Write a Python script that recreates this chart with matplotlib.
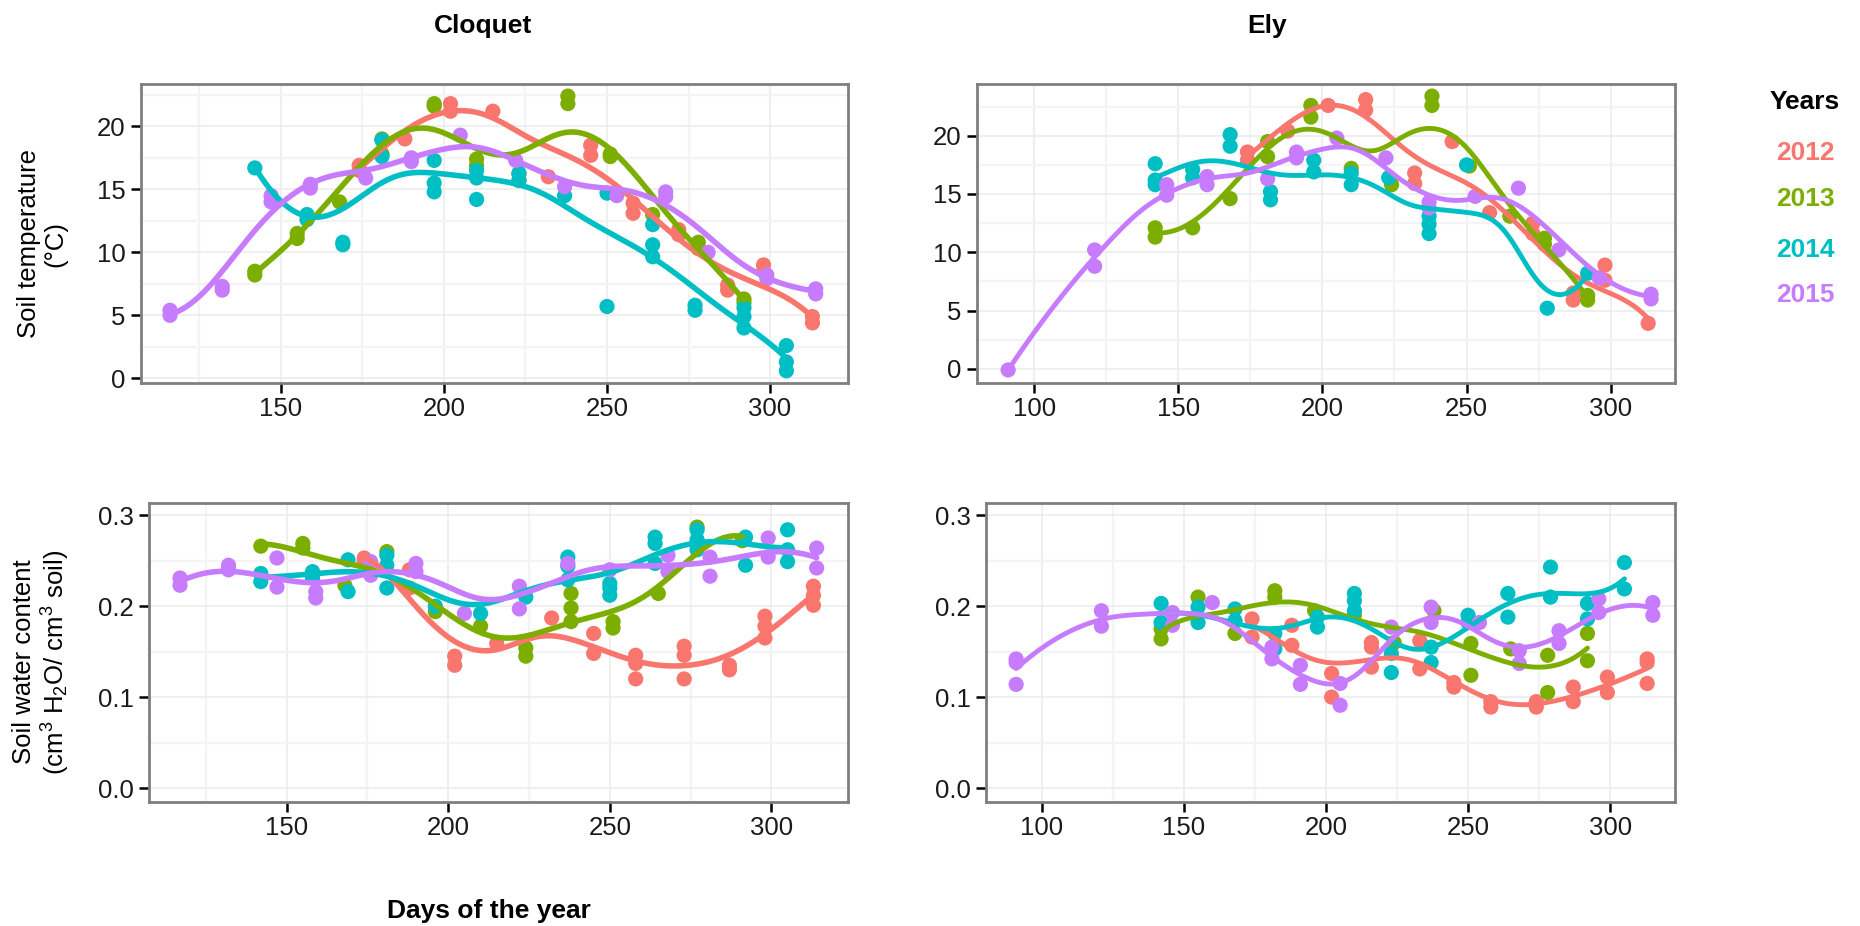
import numpy as np
import matplotlib
matplotlib.use("Agg")
import matplotlib.pyplot as plt
from matplotlib.ticker import FixedLocator

plt.rcParams.update({
    "font.family": ["Liberation Sans", "DejaVu Sans"],
    "font.size": 16,
})

# ── colours (ggplot default hue palette) ──
YEARS = ["2012", "2013", "2014", "2015"]
COLORS = ["#F8766D", "#7CAE00", "#00BFC4", "#C77CFF"]

# ── Cloquet, soil temperature (°C) ──
clq_temp_2012_day = [174, 174, 188, 202, 202, 215, 232, 245, 245, 258, 258, 272, 272, 287, 287, 298, 298, 313, 313]
clq_temp_2012_val = [16.9, 16.5, 19.0, 21.8, 21.2, 21.2, 16.0, 18.5, 17.7, 13.9, 13.1, 11.8, 11.4, 7.4, 7.0, 9.0, 8.5, 4.9, 4.4]
clq_temp_2013_day = [142, 142, 155, 155, 168, 181, 181, 197, 197, 210, 210, 223, 223, 238, 238, 251, 251, 264, 278, 278, 292, 292]
clq_temp_2013_val = [8.5, 8.2, 11.5, 11.1, 14.0, 17.8, 19.0, 21.8, 21.6, 17.4, 16.9, 16.2, 15.7, 22.4, 21.8, 17.8, 17.6, 13.0, 10.8, 10.3, 6.3, 6.0]
clq_temp_2014_day = [142, 158, 158, 169, 169, 181, 181, 197, 197, 197, 210, 210, 210, 223, 223, 237, 250, 250,
                     264, 264, 264, 277, 277, 292, 292, 292, 305, 305, 305]
clq_temp_2014_val = [16.7, 13.0, 12.6, 10.8, 10.6, 18.9, 17.6, 17.3, 15.5, 14.8, 16.5, 15.9, 14.2, 16.3, 15.7, 14.5, 14.7, 5.7,
                     12.2, 10.6, 9.65, 5.8, 5.4, 5.6, 4.9, 4.0, 2.6, 1.3, 0.6]
clq_temp_2015_day = [116, 116, 132, 132, 147, 147, 159, 159, 176, 190, 190, 205, 222, 237, 253, 268, 268, 281, 299, 299, 314, 314]
clq_temp_2015_val = [5.4, 5.0, 7.3, 7.0, 14.5, 14.0, 15.4, 15.1, 15.9, 17.5, 17.2, 19.3, 17.3, 15.2, 14.5, 14.8, 14.4, 10.0, 8.2, 7.9, 7.1, 6.7]

# ── Ely, soil temperature (°C) ──
ely_temp_2012_day = [174, 174, 188, 202, 215, 215, 232, 232, 245, 258, 273, 273, 287, 287, 298, 298, 313]
ely_temp_2012_val = [18.6, 17.9, 20.4, 22.6, 23.1, 22.2, 16.8, 15.9, 19.5, 13.4, 12.5, 11.6, 6.5, 5.9, 8.9, 7.6, 3.9]
ely_temp_2013_day = [142, 142, 155, 168, 181, 181, 196, 196, 210, 224, 238, 238, 251, 265, 277, 277, 292, 292]
ely_temp_2013_val = [12.1, 11.3, 12.1, 14.6, 18.2, 19.5, 22.6, 21.6, 17.2, 15.8, 23.4, 22.6, 17.4, 13.1, 11.2, 10.7, 6.3, 5.9]
ely_temp_2014_day = [142, 142, 142, 155, 155, 168, 168, 182, 182, 197, 197, 210, 210, 223, 237, 237, 237, 250, 278, 292]
ely_temp_2014_val = [17.6, 16.2, 15.8, 17.1, 16.4, 20.1, 19.1, 15.2, 14.5, 17.9, 16.9, 16.8, 15.8, 16.4, 13.1, 12.4, 11.6, 17.5, 5.2, 8.2]
ely_temp_2015_day = [91, 121, 121, 146, 146, 160, 160, 181, 191, 191, 205, 222, 237, 237, 253, 268, 282, 296, 314, 314]
ely_temp_2015_val = [-0.1, 10.2, 8.8, 15.8, 14.9, 16.5, 15.8, 16.3, 18.6, 18.1, 19.8, 18.1, 14.3, 13.8, 14.8, 15.5, 10.2, 7.8, 6.4, 6.0]

# ── Cloquet, soil water content (cm3/cm3) ──
clq_swc_2012_day = [174, 174, 188, 188, 202, 202, 215, 232, 245, 245, 258, 258, 258, 273, 273, 273, 287, 287,
                    298, 298, 298, 313, 313, 313]
clq_swc_2012_val = [.253, .249, .240, .220, .145, .135, .159, .187, .170, .148, .146, .137, .120, .156, .146, .120, .135, .130,
                    .189, .178, .165, .222, .212, .201]
clq_swc_2013_day = [142, 155, 155, 168, 181, 196, 210, 224, 224, 238, 238, 238, 251, 251, 265, 277, 291]
clq_swc_2013_val = [.266, .269, .264, .223, .260, .194, .178, .154, .145, .214, .198, .183, .183, .176, .214, .287, .272]
clq_swc_2014_day = [142, 142, 158, 158, 169, 169, 181, 181, 181, 196, 210, 224, 237, 237, 237, 250, 250, 250,
                    264, 264, 264, 277, 277, 277, 292, 292, 305, 305, 305]
clq_swc_2014_val = [.236, .227, .238, .231, .251, .216, .256, .245, .220, .200, .192, .210, .254, .244, .229, .225, .220, .212,
                    .276, .269, .247, .284, .273, .262, .276, .245, .284, .262, .249]
clq_swc_2015_day = [117, 117, 132, 132, 147, 147, 159, 159, 176, 176, 190, 190, 205, 222, 222, 237, 250,
                    268, 268, 281, 281, 299, 299, 314, 314]
clq_swc_2015_val = [.231, .223, .245, .240, .253, .221, .216, .209, .249, .234, .247, .238, .192, .222, .197, .247, .240,
                    .256, .238, .254, .233, .275, .254, .264, .242]

# ── Ely, soil water content (cm3/cm3) ──
ely_swc_2012_day = [174, 174, 188, 188, 202, 202, 216, 216, 216, 233, 233, 245, 245, 258, 258, 274, 274,
                    287, 287, 299, 299, 313, 313, 313]
ely_swc_2012_val = [.186, .166, .179, .157, .126, .100, .160, .155, .133, .162, .131, .116, .111, .095, .089, .095, .089,
                    .111, .095, .122, .105, .142, .138, .115]
ely_swc_2013_day = [142, 142, 155, 168, 182, 182, 196, 210, 224, 238, 251, 251, 265, 278, 278, 292, 292]
ely_swc_2013_val = [.175, .164, .210, .170, .217, .210, .195, .190, .160, .195, .159, .124, .153, .146, .105, .170, .140]
ely_swc_2014_day = [142, 142, 155, 155, 168, 168, 182, 182, 197, 197, 210, 210, 210, 223, 223, 237, 237,
                    250, 250, 264, 264, 279, 279, 292, 292, 305, 305]
ely_swc_2014_val = [.203, .182, .199, .182, .197, .184, .170, .153, .188, .177, .214, .206, .195, .148, .127, .155, .138,
                    .190, .182, .214, .188, .243, .210, .203, .186, .248, .219]
ely_swc_2015_day = [91, 91, 91, 121, 121, 146, 146, 160, 181, 181, 191, 191, 205, 205, 223, 237, 237,
                    254, 268, 268, 282, 282, 296, 296, 315, 315]
ely_swc_2015_val = [.142, .138, .114, .195, .178, .193, .179, .204, .155, .142, .135, .114, .115, .091, .177, .199, .182,
                    .182, .151, .137, .173, .159, .208, .193, .204, .190]

BANDWIDTH = 17.0  # days, Gaussian kernel of the local quadratic smoother


def smooth(x, y, bw=BANDWIDTH, n_out=150):
    """Kernel-weighted local quadratic regression over the sampled days."""
    x = np.asarray(x, float)
    y = np.asarray(y, float)
    xs = np.linspace(x.min(), x.max(), n_out)
    fit = []
    for x0 in xs:
        w = np.exp(-0.5 * ((x - x0) / bw) ** 2)
        A = np.vstack([np.ones_like(x), x - x0, (x - x0) ** 2]).T
        sw = np.sqrt(w)
        coef, *_ = np.linalg.lstsq(A * sw[:, None], y * sw, rcond=None)
        fit.append(coef[0])
    return xs, np.array(fit)


W, H = 1860, 926
fig = plt.figure(figsize=(W / 100, H / 100), dpi=100)


def px_axes(left, top, right, bottom):
    return fig.add_axes([left / W, 1 - bottom / H, (right - left) / W, (bottom - top) / H])


def style(ax, xlim, ylim, xmaj, ymaj, xmin, ymin, yfmt):
    ax.set_xlim(*xlim)
    ax.set_ylim(*ylim)
    ax.xaxis.set_major_locator(FixedLocator(xmaj))
    ax.yaxis.set_major_locator(FixedLocator(ymaj))
    ax.xaxis.set_minor_locator(FixedLocator(xmin))
    ax.yaxis.set_minor_locator(FixedLocator(ymin))
    ax.set_yticklabels([yfmt.format(v) for v in ymaj])
    ax.set_xticklabels([str(v) for v in xmaj])
    ax.grid(which="major", color="#EBEBEB", lw=1.1, zorder=0)
    ax.grid(which="minor", color="#F4F4F4", lw=1.6, zorder=0)
    ax.set_axisbelow(True)
    for s in ax.spines.values():
        s.set_color("#7F7F7F")
        s.set_linewidth(2.0)
    ax.tick_params(which="major", length=7, width=1.8, color="black",
                   labelsize=18.5, labelcolor="#1A1A1A", pad=4)
    ax.tick_params(axis="x", which="major", pad=3)
    ax.tick_params(which="minor", length=0)


def draw(ax, series, lw):
    for (d, v), c in zip(series, COLORS):
        ax.scatter(d, v, s=120, color=c, edgecolors="none", zorder=3)
        xs, ys = smooth(d, v)
        ax.plot(xs, ys, color=c, lw=lw, zorder=4, solid_capstyle="round")


# ── panels ──
ax1 = px_axes(141, 84, 848, 383)
draw(ax1, [(clq_temp_2012_day, clq_temp_2012_val), (clq_temp_2013_day, clq_temp_2013_val),
           (clq_temp_2014_day, clq_temp_2014_val), (clq_temp_2015_day, clq_temp_2015_val)], 4.0)
style(ax1, (107.1, 323.9), (-0.37, 23.36), [150, 200, 250, 300], [0, 5, 10, 15, 20],
      [125, 175, 225, 275], [2.5, 7.5, 12.5, 17.5, 22.5], "{:.0f}")

ax2 = px_axes(977, 84, 1675, 383)
draw(ax2, [(ely_temp_2012_day, ely_temp_2012_val), (ely_temp_2013_day, ely_temp_2013_val),
           (ely_temp_2014_day, ely_temp_2014_val), (ely_temp_2015_day, ely_temp_2015_val)], 3.5)
style(ax2, (80.2, 322.3), (-1.22, 24.44), [100, 150, 200, 250, 300], [0, 5, 10, 15, 20],
      [125, 175, 225, 275], [2.5, 7.5, 12.5, 17.5, 22.5], "{:.0f}")

ax3 = px_axes(149, 503, 848, 802)
draw(ax3, [(clq_swc_2012_day, clq_swc_2012_val), (clq_swc_2013_day, clq_swc_2013_val),
           (clq_swc_2014_day, clq_swc_2014_val), (clq_swc_2015_day, clq_swc_2015_val)], 4.0)
style(ax3, (107.4, 323.7), (-0.0154, 0.3135), [150, 200, 250, 300], [0.0, 0.1, 0.2, 0.3],
      [125, 175, 225, 275], [0.05, 0.15, 0.25], "{:.1f}")

ax4 = px_axes(986, 503, 1675, 802)
draw(ax4, [(ely_swc_2012_day, ely_swc_2012_val), (ely_swc_2013_day, ely_swc_2013_val),
           (ely_swc_2014_day, ely_swc_2014_val), (ely_swc_2015_day, ely_swc_2015_val)], 3.5)
style(ax4, (80.4, 322.8), (-0.0154, 0.3135), [100, 150, 200, 250, 300], [0.0, 0.1, 0.2, 0.3],
      [125, 175, 225, 275], [0.05, 0.15, 0.25], "{:.1f}")

# ── titles, axis labels, legend ──
fig.text(483 / W, 1 - 33 / H, "Cloquet", ha="center", va="baseline", fontsize=19, fontweight="bold")
fig.text(1267 / W, 1 - 33 / H, "Ely", ha="center", va="baseline", fontsize=19, fontweight="bold")

fig.text(42 / W, 1 - 244 / H, "Soil temperature\n(°C)", rotation=90, ha="center", va="center",
         multialignment="center", fontsize=18.5, linespacing=1.15)
fig.text(42 / W, 1 - 662 / H,
         "Soil water content\n(cm$\\mathregular{^3}$ H$\\mathregular{_2}$O/ cm$\\mathregular{^3}$ soil)",
         rotation=90, ha="center", va="center", multialignment="center", fontsize=18.5, linespacing=1.15)

fig.text(489 / W, 1 - 911 / H, "Days of the year", ha="center", va="center", fontsize=19, fontweight="bold")

fig.text(1805 / W, 1 - 102 / H, "Years", ha="center", va="center", fontsize=19, fontweight="bold")
for yr, c, yp in zip(YEARS, COLORS, [153, 199, 250, 295]):
    fig.text(1805 / W, 1 - yp / H, yr, ha="center", va="center", fontsize=19, fontweight="bold", color=c)

fig.savefig("out.png", dpi=100, facecolor="white")
